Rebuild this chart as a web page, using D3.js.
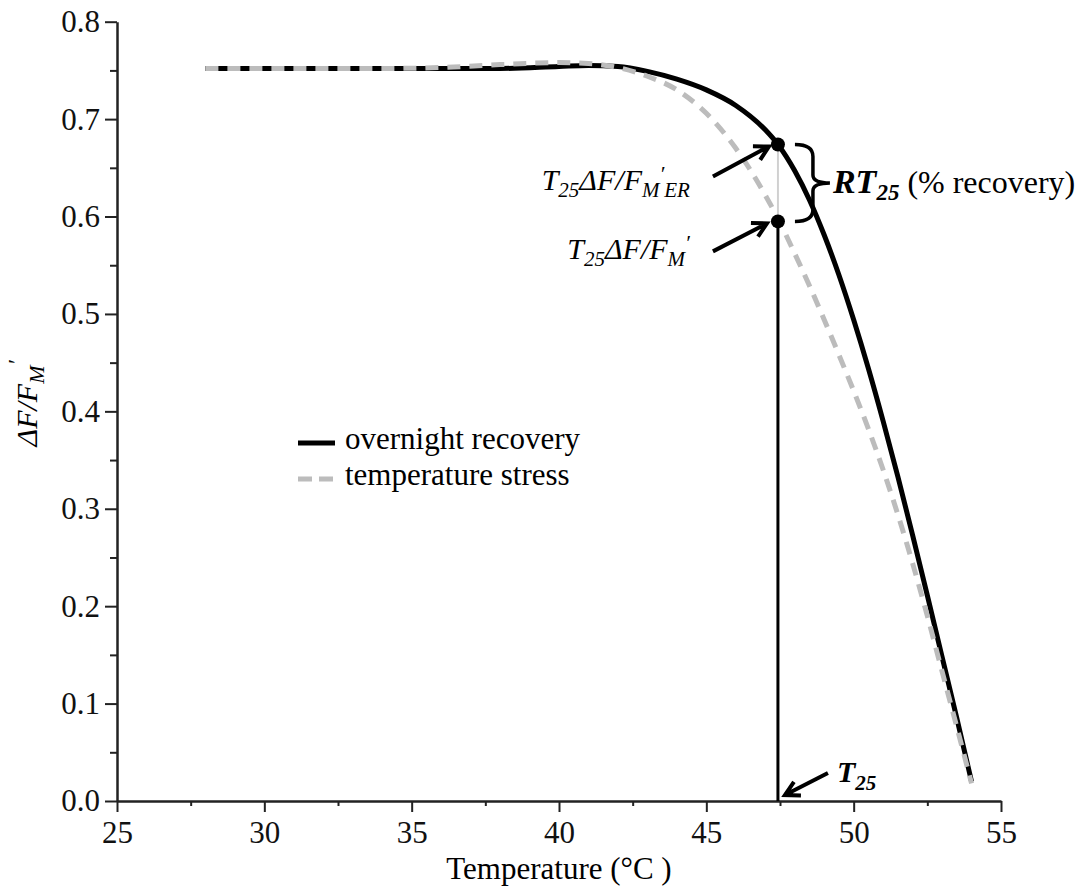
<!DOCTYPE html>
<html lang="en">
<head>
    <meta charset="UTF-8">
    <title>ΔF/FM′ vs temperature</title>
    <script src="https://d3js.org/d3.v7.min.js"></script>
    <style>
        body { margin: 0; background: #fff; }
        svg, svg text { font-family: "Liberation Serif", "Times New Roman", Tinos, "Nimbus Roman", "DejaVu Serif", serif; }
        .axis path, .axis line { stroke: #222; }
        .axis path { stroke-width: 2.5; }
        .axis line { stroke-width: 2; }
        .axis text { fill: #111; }
    </style>
</head>
<body>
    <svg width="1086" height="888"></svg>

    <script>
        const temps = [28, 30, 32, 34, 36, 38, 40, 41, 42, 43, 44, 45, 46, 47, 47.43,
                       48, 48.5, 49, 49.5, 50, 50.5, 51, 51.5, 52, 52.5, 53, 53.5, 54];
        // overnight recovery (solid black)
        const recovery = [0.752, 0.752, 0.752, 0.752, 0.752, 0.752, 0.754, 0.755, 0.754, 0.749,
                          0.741, 0.730, 0.714, 0.689, 0.674, 0.647, 0.617, 0.581, 0.540, 0.494,
                          0.444, 0.390, 0.333, 0.273, 0.211, 0.148, 0.085, 0.020];
        // temperature stress (grey dashed)
        const stress = [0.752, 0.752, 0.752, 0.752, 0.753, 0.756, 0.758, 0.757, 0.753, 0.744,
                        0.730, 0.706, 0.670, 0.622, 0.598, 0.562, 0.529, 0.494, 0.458, 0.421,
                        0.382, 0.340, 0.294, 0.244, 0.190, 0.133, 0.076, 0.018];

        const xTicks = [25, 30, 35, 40, 45, 50, 55];
        const xMinor = [27.5, 32.5, 37.5, 42.5, 47.5, 52.5];
        const yTicks = [0, 0.1, 0.2, 0.3, 0.4, 0.5, 0.6, 0.7, 0.8];
        const yMinor = [0.05, 0.15, 0.25, 0.35, 0.45, 0.55, 0.65, 0.75];

        // T25 point and the two values at it
        const t25 = 47.43;
        const t25Er = 0.674;
        const t25Val = 0.595;

        const svg = d3.select("svg");
        const x = d3.scaleLinear().domain([25, 55]).range([117, 1001]);
        const y = d3.scaleLinear().domain([0, 0.8]).range([801, 21.7]);

        // axes
        svg.append("g").attr("class", "axis")
            .attr("transform", `translate(0,${y(0)})`)
            .call(d3.axisBottom(x).tickValues(xTicks).tickSize(11).tickSizeOuter(0)
                .tickPadding(9).tickFormat(d3.format("d")));
        svg.append("g").attr("class", "axis")
            .attr("transform", `translate(0,${y(0)})`)
            .call(d3.axisBottom(x).tickValues(xMinor).tickSize(5).tickFormat(() => ""))
            .call(g => g.select(".domain").remove());

        svg.append("g").attr("class", "axis")
            .attr("transform", `translate(${x(25)},0)`)
            .call(d3.axisLeft(y).tickValues(yTicks).tickSize(12).tickSizeOuter(0)
                .tickPadding(5).tickFormat(d3.format(".1f")));
        svg.append("g").attr("class", "axis")
            .attr("transform", `translate(${x(25)},0)`)
            .call(d3.axisLeft(y).tickValues(yMinor).tickSize(7).tickFormat(() => ""))
            .call(g => g.select(".domain").remove());

        svg.selectAll(".axis").attr("font-family", null).attr("font-size", 31);

        // axis titles
        svg.append("text")
            .attr("x", (x(25) + x(55)) / 2).attr("y", 879)
            .attr("text-anchor", "middle").attr("font-size", 31)
            .text("Temperature (°C )");

        const yt = svg.append("text")
            .attr("transform", `translate(37,${(y(0) + y(0.8)) / 2 - 8}) rotate(-90)`)
            .attr("text-anchor", "middle").attr("font-size", 30).attr("font-style", "italic");
        yt.append("tspan").text("ΔF/F");
        yt.append("tspan").attr("dy", 7).attr("font-size", 22).text("M");
        yt.append("tspan").attr("dy", -20).attr("font-size", 24).text("′");

        // curves
        const line = d3.line()
            .x(d => x(d[0]))
            .y(d => y(d[1]))
            .curve(d3.curveMonotoneX);

        svg.append("path")
            .datum(temps.map((t, i) => [t, recovery[i]]))
            .attr("fill", "none").attr("stroke", "#000").attr("stroke-width", 5)
            .attr("d", line);

        svg.append("path")
            .datum(temps.map((t, i) => [t, stress[i]]))
            .attr("fill", "none").attr("stroke", "#bcbcbc").attr("stroke-width", 5)
            .attr("stroke-dasharray", "13,9")
            .attr("d", line);

        // T25 markers
        const px = x(t25), pyEr = y(t25Er), pyV = y(t25Val);

        svg.append("line")
            .attr("x1", px).attr("x2", px).attr("y1", pyEr).attr("y2", pyV)
            .attr("stroke", "#d0d0d0").attr("stroke-width", 2);
        svg.append("line")
            .attr("x1", px).attr("x2", px).attr("y1", pyV).attr("y2", y(0))
            .attr("stroke", "#000").attr("stroke-width", 3);

        svg.selectAll(".dot")
            .data([t25Er, t25Val])
            .enter().append("circle")
            .attr("class", "dot")
            .attr("cx", px).attr("cy", d => y(d)).attr("r", 7)
            .attr("fill", "#000");

        // arrows
        function arrow(x1, y1, x2, y2) {
            const a = Math.atan2(y2 - y1, x2 - x1);
            const len = 16, spread = 0.5;
            const h1 = [x2 - len * Math.cos(a - spread), y2 - len * Math.sin(a - spread)];
            const h2 = [x2 - len * Math.cos(a + spread), y2 - len * Math.sin(a + spread)];
            svg.append("path")
                .attr("d", `M${x1},${y1}L${x2},${y2}M${h1}L${x2},${y2}L${h2}`)
                .attr("fill", "none").attr("stroke", "#000").attr("stroke-width", 4)
                .attr("stroke-linejoin", "miter");
        }
        arrow(px - 65, pyEr + 32, px - 9, pyEr + 2);
        arrow(px - 65, pyV + 30, px - 11, pyV + 2);
        arrow(px + 50, y(0) - 28, px + 7, y(0) - 6);

        // brace between the two dots
        const bx0 = px + 17, bx1 = px + 35, bx2 = px + 52, bMid = (pyEr + pyV) / 2;
        svg.append("path")
            .attr("d", `M${bx0},${pyEr}Q${bx1},${pyEr} ${bx1},${pyEr + 12}` +
                `L${bx1},${bMid - 8}Q${bx1},${bMid} ${bx2},${bMid}` +
                `Q${bx1},${bMid} ${bx1},${bMid + 8}L${bx1},${pyV - 12}` +
                `Q${bx1},${pyV} ${bx0},${pyV}`)
            .attr("fill", "none").attr("stroke", "#000").attr("stroke-width", 3.5);

        // labels
        const l1 = svg.append("text")
            .attr("x", px - 88).attr("y", pyEr + 46)
            .attr("text-anchor", "end").attr("font-size", 30).attr("font-style", "italic");
        l1.append("tspan").text("T");
        l1.append("tspan").attr("dy", 7).attr("font-size", 21).text("25");
        l1.append("tspan").attr("dy", -7).text("ΔF/F");
        l1.append("tspan").attr("dy", 7).attr("font-size", 21).text("M");
        l1.append("tspan").attr("dy", -16).attr("font-size", 22).text("′");
        l1.append("tspan").attr("dy", 16).attr("font-size", 21).text("ER");

        const l2 = svg.append("text")
            .attr("x", px - 88).attr("y", pyV + 38)
            .attr("text-anchor", "end").attr("font-size", 30).attr("font-style", "italic");
        l2.append("tspan").text("T");
        l2.append("tspan").attr("dy", 7).attr("font-size", 21).text("25");
        l2.append("tspan").attr("dy", -7).text("ΔF/F");
        l2.append("tspan").attr("dy", 7).attr("font-size", 21).text("M");
        l2.append("tspan").attr("dy", -16).attr("font-size", 22).text("′");

        const l3 = svg.append("text")
            .attr("x", bx2 + 3).attr("y", bMid + 10).attr("font-size", 32);
        l3.append("tspan").attr("font-weight", "bold").attr("font-style", "italic")
            .attr("font-size", 34).text("RT");
        l3.append("tspan").attr("dy", 7).attr("font-size", 23)
            .attr("font-weight", "bold").attr("font-style", "italic").text("25");
        l3.append("tspan").attr("dy", -7).text(" (% recovery)");

        const l4 = svg.append("text")
            .attr("x", px + 59).attr("y", y(0) - 19).attr("font-size", 30)
            .attr("font-weight", "bold").attr("font-style", "italic");
        l4.append("tspan").text("T");
        l4.append("tspan").attr("dy", 8).attr("font-size", 21).text("25");

        // legend
        const legend = svg.append("g").attr("transform", "translate(298,443)");
        const legItems = [
            { name: "overnight recovery", color: "#000", dash: null },
            { name: "temperature stress", color: "#bcbcbc", dash: "14,7" }
        ];
        legend.selectAll("line")
            .data(legItems)
            .enter().append("line")
            .attr("x1", 0).attr("x2", 37)
            .attr("y1", (d, i) => i * 36).attr("y2", (d, i) => i * 36)
            .attr("stroke", d => d.color).attr("stroke-width", 5)
            .attr("stroke-dasharray", d => d.dash);
        legend.selectAll("text")
            .data(legItems)
            .enter().append("text")
            .attr("x", 47).attr("y", (d, i) => i * 36 + 6)
            .attr("font-size", 31)
            .text(d => d.name);
    </script>
</body>
</html>
